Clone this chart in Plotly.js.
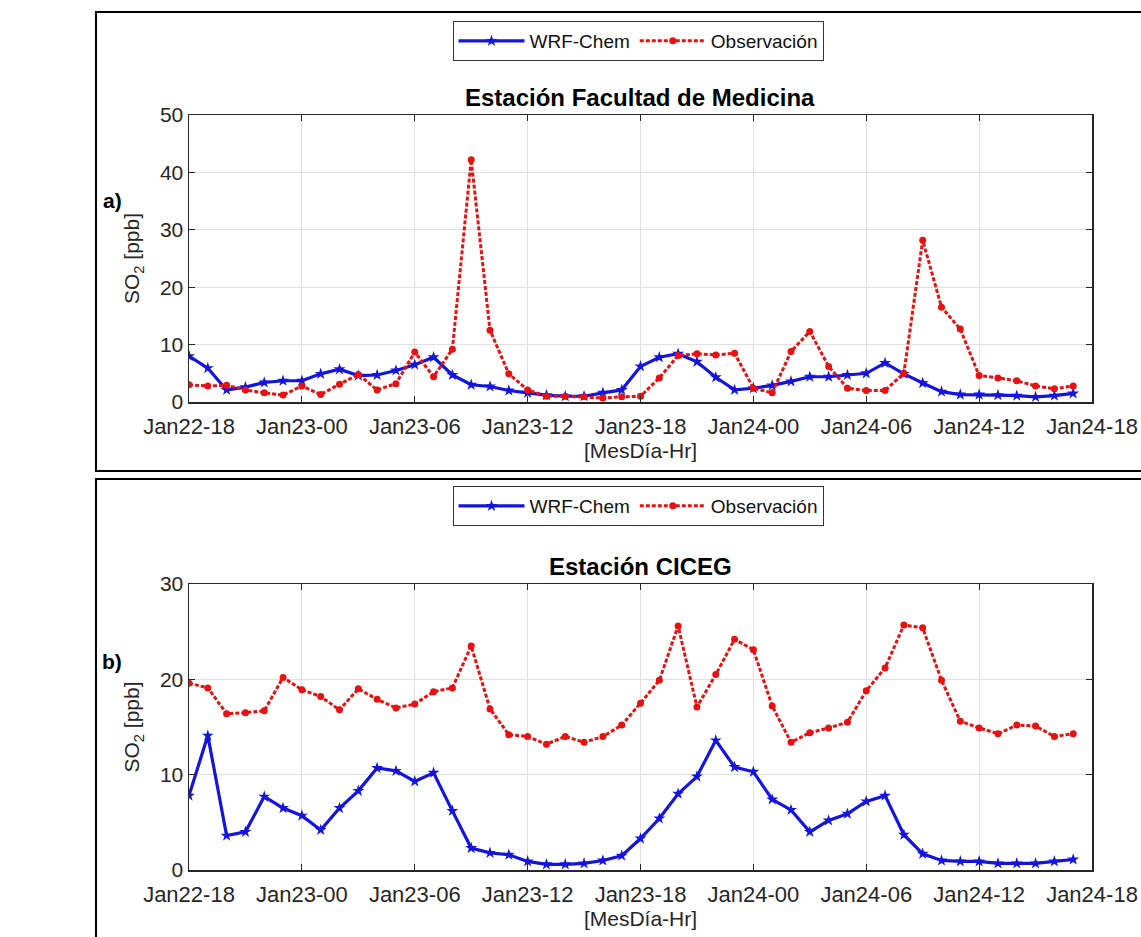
<!DOCTYPE html>
<html>
<head>
<meta charset="utf-8">
<script src="https://cdn.plot.ly/plotly-3.0.1.min.js"></script>
<style>html,body{margin:0;padding:0;background:#fff;}#chart{width:1141px;height:937px;}</style>
</head>
<body>
<div id="chart"></div>
<script>
// Hourly time axis: Jan22-18 ... Jan24-17 (48 hourly values)
const startTime = '2019-01-22 18:00';
const endTime = '2019-01-24 18:00';
const nHours = 48;
const seriesNames = ['WRF-Chem', 'Observación'];
const stationTitles = ['Estación Facultad de Medicina', 'Estación CICEG'];
const panelLabels = ['a)', 'b)'];
const xTitle = '[MesDía-Hr]';
const yTitle = 'SO<sub>2</sub> [ppb]';

// a) Estación Facultad de Medicina
const wrfMedicina = [8.0, 5.9, 2.1, 2.6, 3.4, 3.7, 3.7, 4.9, 5.7, 4.6, 4.7, 5.5,
  6.5, 7.8, 4.7, 3.0, 2.7, 2.0, 1.6, 1.2, 1.0, 1.0, 1.6, 2.1,
  6.2, 7.8, 8.4, 7.0, 4.3, 2.1, 2.4, 2.9, 3.6, 4.4, 4.4, 4.7,
  5.0, 6.8, 4.9, 3.3, 1.8, 1.3, 1.3, 1.2, 1.1, 0.9, 1.1, 1.5];
const obsMedicina = [3.0, 2.8, 2.9, 2.1, 1.6, 1.2, 2.8, 1.3, 3.1, 4.8, 2.1, 3.2,
  8.7, 4.4, 9.2, 42.2, 12.5, 4.9, 2.1, 1.0, 1.0, 0.9, 0.7, 0.9,
  1.0, 4.2, 8.1, 8.4, 8.2, 8.5, 2.4, 1.6, 8.8, 12.3, 6.2, 2.4,
  2.0, 2.0, 5.0, 28.2, 16.5, 12.7, 4.6, 4.2, 3.7, 2.8, 2.3, 2.8];

// b) Estación CICEG
const wrfCiceg = [7.8, 14.1, 3.6, 4.0, 7.7, 6.5, 5.7, 4.2, 6.5, 8.3, 10.7, 10.4,
  9.3, 10.2, 6.2, 2.3, 1.8, 1.6, 0.9, 0.6, 0.6, 0.7, 1.0, 1.5,
  3.3, 5.4, 8.0, 9.8, 13.6, 10.8, 10.3, 7.4, 6.3, 4.0, 5.2, 5.9,
  7.2, 7.8, 3.7, 1.7, 1.0, 0.9, 0.9, 0.7, 0.7, 0.7, 0.9, 1.1];
const obsCiceg = [19.6, 19.1, 16.4, 16.5, 16.7, 20.2, 18.9, 18.2, 16.8, 19.0, 17.9, 17.0,
  17.4, 18.7, 19.1, 23.5, 16.9, 14.2, 14.0, 13.2, 14.0, 13.4, 14.0, 15.2,
  17.5, 19.9, 25.6, 17.1, 20.5, 24.2, 23.1, 17.2, 13.4, 14.4, 14.9, 15.5,
  18.8, 21.2, 25.7, 25.4, 19.9, 15.6, 14.9, 14.3, 15.2, 15.1, 14.0, 14.3];

const yRangeA = [0, 50];
const yRangeB = [0, 30];

// build hourly timestamps
function pad(n){return (n<10?'0':'')+n;}
const t0 = new Date(startTime.replace(' ', 'T') + ':00Z');
const times = [];
for (let i = 0; i < nHours; i++) {
  const d = new Date(t0.getTime() + i * 3600000);
  times.push(d.getUTCFullYear() + '-' + pad(d.getUTCMonth()+1) + '-' + pad(d.getUTCDate()) + ' ' + pad(d.getUTCHours()) + ':00');
}

const W = 1141, H = 937;
const px = x => x / W;
const py = y => 1 - y / H;

const blue = '#1414e0';
const red = '#e81010';
const font = 'Arial, "Liberation Sans", sans-serif';
const tickColor = '#262626';

function wrfTrace(y, xa, ya, leg) {
  return {x: times, y: y, xaxis: xa, yaxis: ya, name: seriesNames[0], legend: leg,
    mode: 'lines+markers', type: 'scatter',
    line: {color: blue, width: 3.2},
    marker: {symbol: 'star', size: 9, color: blue}};
}
function obsTrace(y, xa, ya, leg) {
  return {x: times, y: y, xaxis: xa, yaxis: ya, name: seriesNames[1], legend: leg,
    mode: 'lines+markers', type: 'scatter',
    line: {color: red, width: 3, dash: '4px,2px'},
    marker: {symbol: 'circle', size: 7, color: red}};
}

const data = [
  wrfTrace(wrfMedicina, 'x', 'y', 'legend'),
  obsTrace(obsMedicina, 'x', 'y', 'legend'),
  wrfTrace(wrfCiceg, 'x2', 'y2', 'legend2'),
  obsTrace(obsCiceg, 'x2', 'y2', 'legend2')
];

function xAxis(anchor) {
  return {
    type: 'date', domain: [px(189), px(1092)], anchor: anchor,
    range: [startTime, endTime], tick0: startTime, dtick: 6 * 3600000,
    tickformat: '%b%d-%H', ticks: 'inside', ticklen: 6, tickcolor: tickColor,
    showline: true, linecolor: tickColor, linewidth: 1.5, mirror: 'ticks',
    showgrid: true, gridcolor: '#e0e0e0', gridwidth: 1, zeroline: false,
    ticklabelstandoff: 4,
    tickfont: {family: font, size: 22, color: tickColor},
    title: {text: xTitle, font: {family: font, size: 21, color: tickColor}, standoff: 3},
    fixedrange: true
  };
}
function yAxis(anchor, domain, range) {
  return {
    domain: domain, anchor: anchor, range: range, dtick: 10, tick0: 0,
    ticks: 'inside', ticklen: 6, tickcolor: tickColor,
    showline: true, linecolor: tickColor, linewidth: 1.5, mirror: 'ticks',
    showgrid: true, gridcolor: '#e0e0e0', gridwidth: 1, zeroline: false,
    tickfont: {family: font, size: 21, color: tickColor},
    title: {text: yTitle, font: {family: font, size: 21, color: tickColor}, standoff: 14},
    fixedrange: true
  };
}

const legendCommon = {
  orientation: 'h', xanchor: 'center', yanchor: 'top',
  bgcolor: '#ffffff', bordercolor: '#333333', borderwidth: 1,
  font: {family: font, size: 19, color: '#111'},
  itemwidth: 66, traceorder: 'normal', tracegroupgap: 0, itemclick: false
};

const layout = {
  width: W, height: H,
  margin: {l: 0, r: 0, t: 0, b: 0},
  paper_bgcolor: '#ffffff', plot_bgcolor: '#ffffff',
  showlegend: true,
  xaxis: xAxis('y'),
  yaxis: yAxis('x', [py(402), py(115)], yRangeA),
  xaxis2: xAxis('y2'),
  yaxis2: yAxis('x2', [py(870), py(584)], yRangeB),
  legend: Object.assign({}, legendCommon, {x: px(638), y: py(21)}),
  legend2: Object.assign({}, legendCommon, {x: px(638), y: py(486)}),
  shapes: [
    {type: 'rect', xref: 'paper', yref: 'paper', x0: px(96), x1: px(1150), y0: py(471), y1: py(12),
     line: {color: '#000', width: 2}, fillcolor: 'rgba(0,0,0,0)'},
    {type: 'rect', xref: 'paper', yref: 'paper', x0: px(96), x1: px(1150), y0: py(945), y1: py(479),
     line: {color: '#000', width: 2}, fillcolor: 'rgba(0,0,0,0)'}
  ],
  annotations: [
    {text: '<b>' + stationTitles[0] + '</b>', xref: 'paper', yref: 'paper', x: px(640), y: py(97),
     xanchor: 'center', yanchor: 'middle', showarrow: false, font: {family: font, size: 24, color: '#000'}},
    {text: '<b>' + stationTitles[1] + '</b>', xref: 'paper', yref: 'paper', x: px(640), y: py(566),
     xanchor: 'center', yanchor: 'middle', showarrow: false, font: {family: font, size: 24, color: '#000'}},
    {text: '<b>' + panelLabels[0] + '</b>', xref: 'paper', yref: 'paper', x: px(112), y: py(201),
     xanchor: 'center', yanchor: 'middle', showarrow: false, font: {family: font, size: 21, color: '#000'}},
    {text: '<b>' + panelLabels[1] + '</b>', xref: 'paper', yref: 'paper', x: px(112), y: py(661),
     xanchor: 'center', yanchor: 'middle', showarrow: false, font: {family: font, size: 21, color: '#000'}}
  ]
};

Plotly.newPlot('chart', data, layout, {displayModeBar: false, staticPlot: true});
</script>
</body>
</html>
